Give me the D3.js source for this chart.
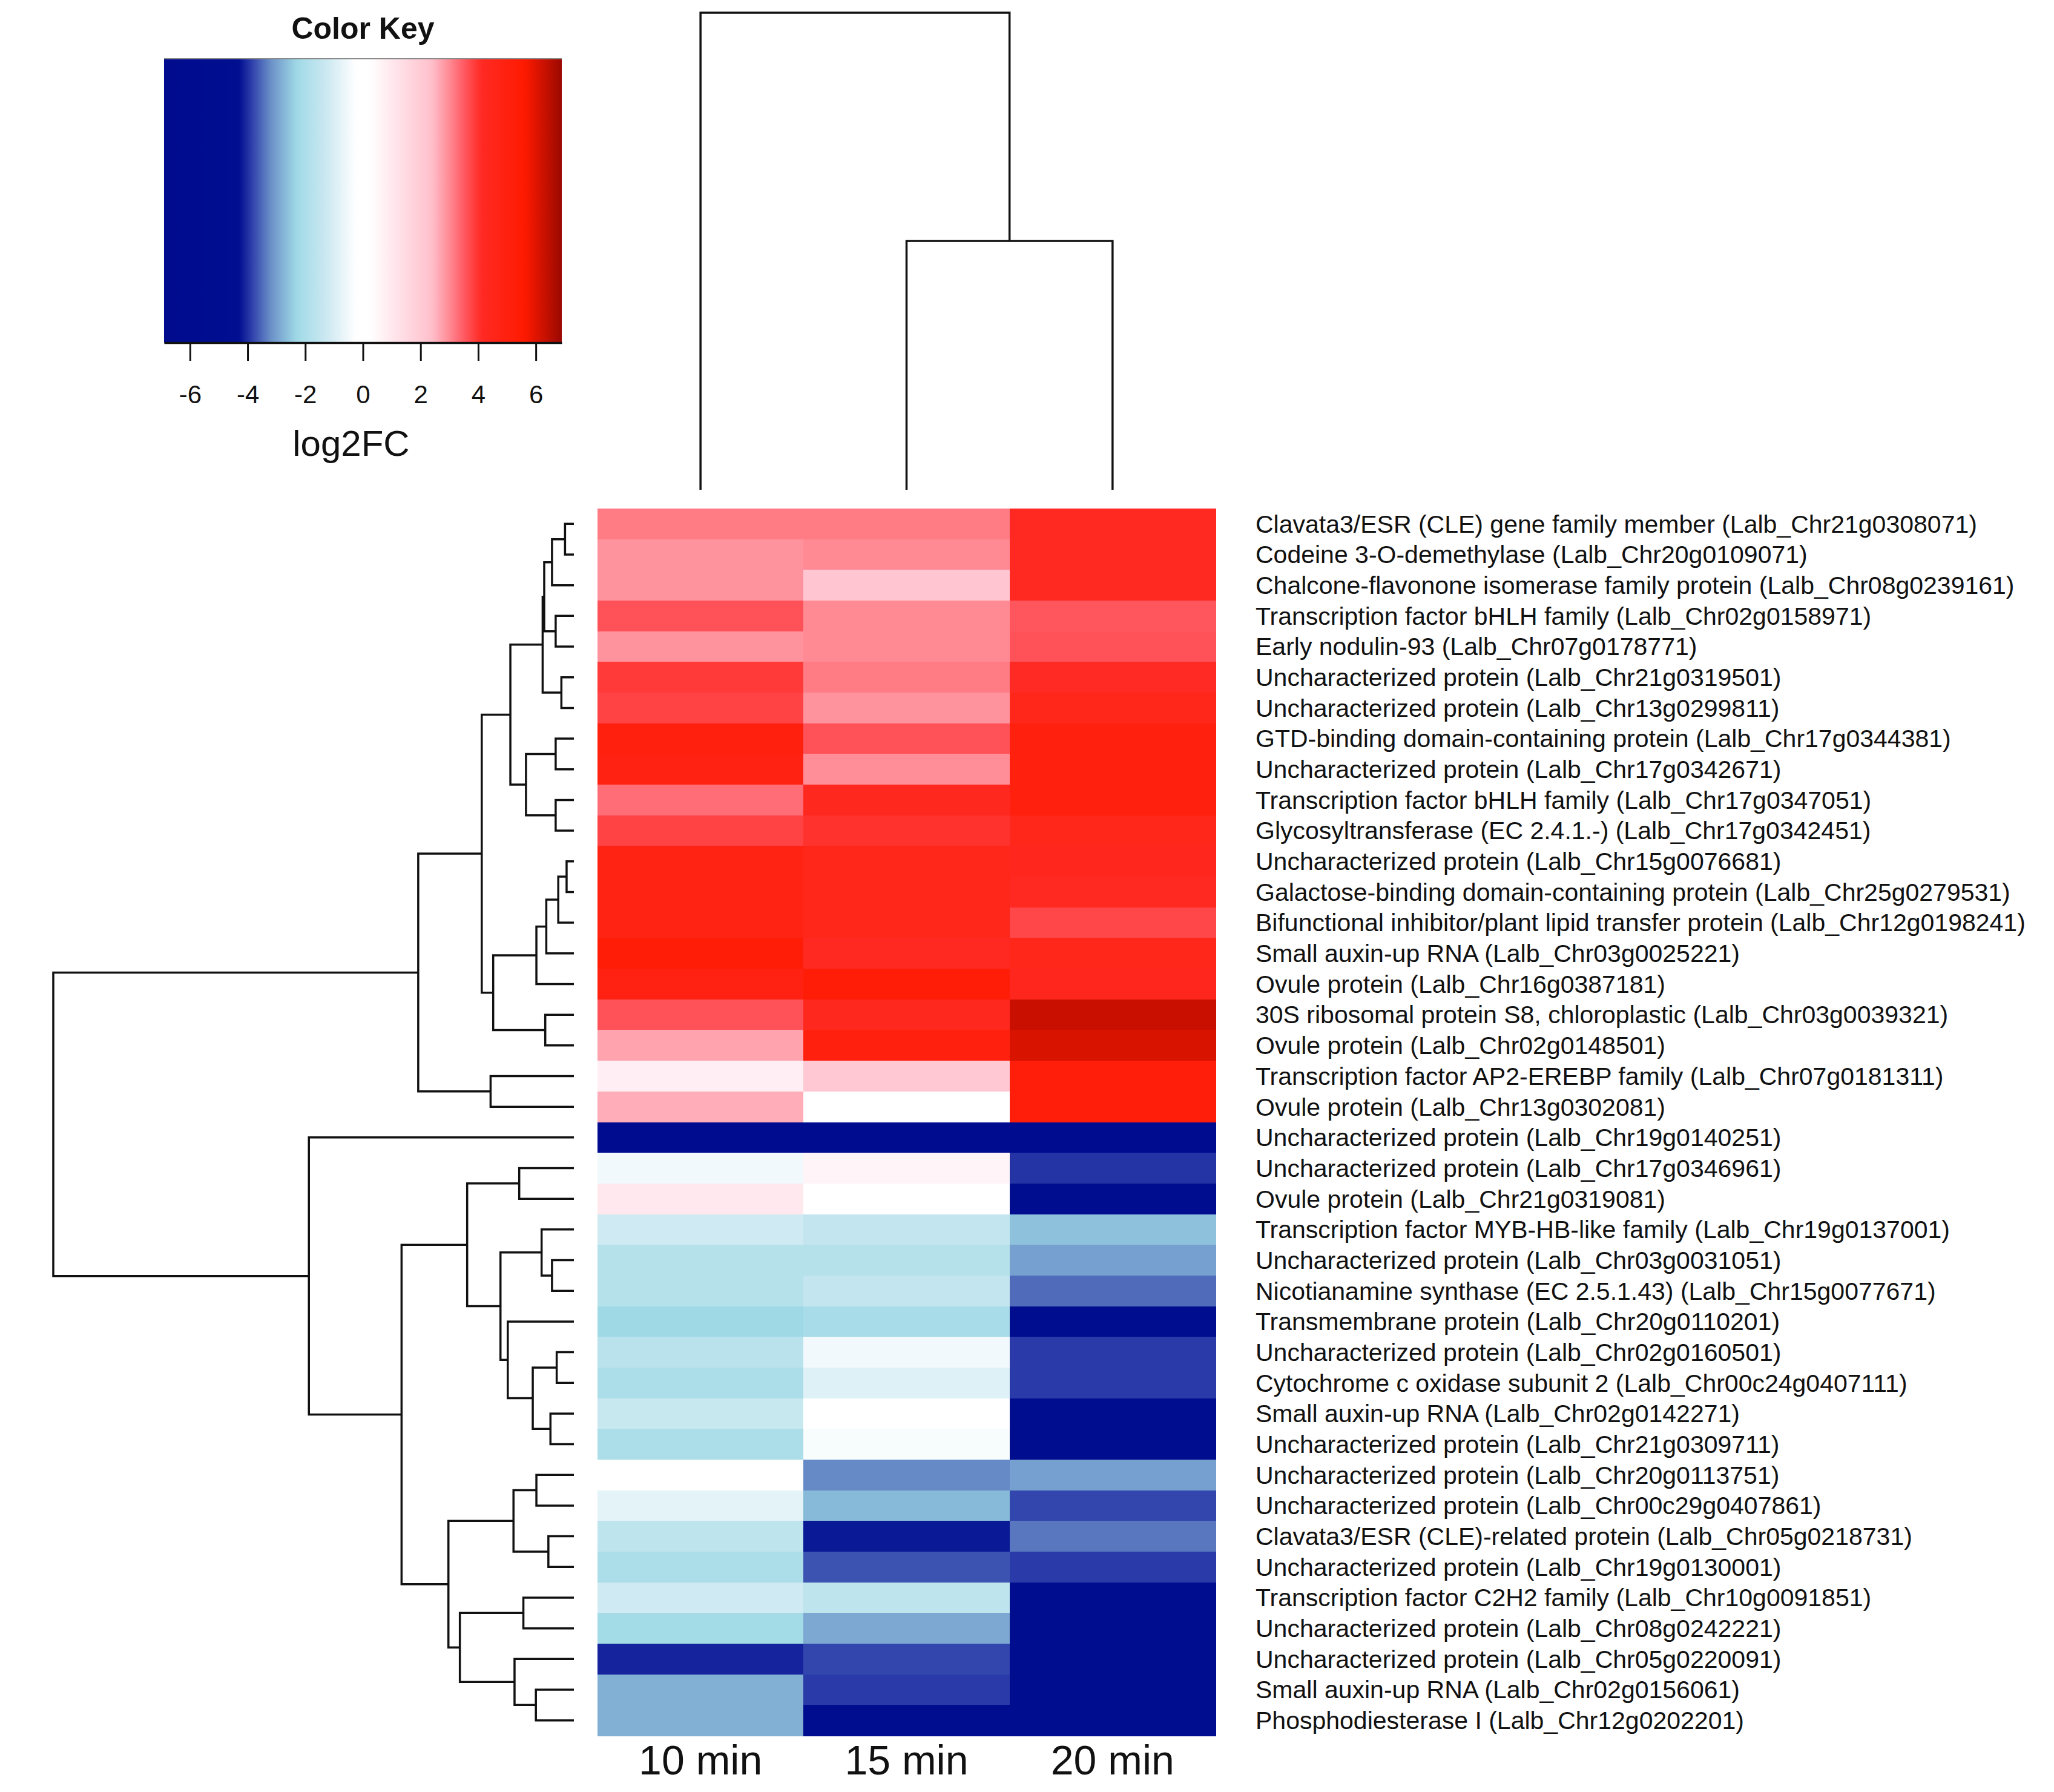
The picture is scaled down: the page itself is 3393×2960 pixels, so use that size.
<!DOCTYPE html>
<html>
<head>
<meta charset="utf-8">
<script src="https://cdn.jsdelivr.net/npm/d3@7"></script>
<style>
  body { margin: 0; background: #fff; }
  text { font-family: 'Liberation Sans', Arial, sans-serif; fill: #111; }
</style>
</head>
<body>
<div id="chart"></div>
<script>
// 1. SETUP
const width = 3393;
const height = 2960;

// --- DATA ---
const colLabels = ["10 min", "15 min", "20 min"];

const rowLabels = [
    "Clavata3/ESR (CLE) gene family member (Lalb_Chr21g0308071)",
    "Codeine 3-O-demethylase (Lalb_Chr20g0109071)",
    "Chalcone-flavonone isomerase family protein (Lalb_Chr08g0239161)",
    "Transcription factor bHLH family (Lalb_Chr02g0158971)",
    "Early nodulin-93 (Lalb_Chr07g0178771)",
    "Uncharacterized protein (Lalb_Chr21g0319501)",
    "Uncharacterized protein (Lalb_Chr13g0299811)",
    "GTD-binding domain-containing protein (Lalb_Chr17g0344381)",
    "Uncharacterized protein (Lalb_Chr17g0342671)",
    "Transcription factor bHLH family (Lalb_Chr17g0347051)",
    "Glycosyltransferase (EC 2.4.1.-) (Lalb_Chr17g0342451)",
    "Uncharacterized protein (Lalb_Chr15g0076681)",
    "Galactose-binding domain-containing protein (Lalb_Chr25g0279531)",
    "Bifunctional inhibitor/plant lipid transfer protein (Lalb_Chr12g0198241)",
    "Small auxin-up RNA (Lalb_Chr03g0025221)",
    "Ovule protein (Lalb_Chr16g0387181)",
    "30S ribosomal protein S8, chloroplastic (Lalb_Chr03g0039321)",
    "Ovule protein (Lalb_Chr02g0148501)",
    "Transcription factor AP2-EREBP family (Lalb_Chr07g0181311)",
    "Ovule protein (Lalb_Chr13g0302081)",
    "Uncharacterized protein (Lalb_Chr19g0140251)",
    "Uncharacterized protein (Lalb_Chr17g0346961)",
    "Ovule protein (Lalb_Chr21g0319081)",
    "Transcription factor MYB-HB-like family (Lalb_Chr19g0137001)",
    "Uncharacterized protein (Lalb_Chr03g0031051)",
    "Nicotianamine synthase (EC 2.5.1.43) (Lalb_Chr15g0077671)",
    "Transmembrane protein (Lalb_Chr20g0110201)",
    "Uncharacterized protein (Lalb_Chr02g0160501)",
    "Cytochrome c oxidase subunit 2 (Lalb_Chr00c24g0407111)",
    "Small auxin-up RNA (Lalb_Chr02g0142271)",
    "Uncharacterized protein (Lalb_Chr21g0309711)",
    "Uncharacterized protein (Lalb_Chr20g0113751)",
    "Uncharacterized protein (Lalb_Chr00c29g0407861)",
    "Clavata3/ESR (CLE)-related protein (Lalb_Chr05g0218731)",
    "Uncharacterized protein (Lalb_Chr19g0130001)",
    "Transcription factor C2H2 family (Lalb_Chr10g0091851)",
    "Uncharacterized protein (Lalb_Chr08g0242221)",
    "Uncharacterized protein (Lalb_Chr05g0220091)",
    "Small auxin-up RNA (Lalb_Chr02g0156061)",
    "Phosphodiesterase I (Lalb_Chr12g0202201)"
];

// log2FC per column, same order as rowLabels
const fc10 = [3.15, 2.9, 2.9, 3.6, 2.9, 3.9, 3.8, 5.0, 4.9, 3.3,
              3.8, 4.8, 4.8, 4.8, 5.3, 4.9, 3.6, 2.7, 0.8, 2.6,
              -6.0, -0.5, 1.0, -1.2, -1.8, -1.8, -2.3, -1.7, -2.0, -1.35,
              -2.0, 0.0, -0.8, -1.6, -2.0, -1.2, -2.2, -4.1, -2.8, -2.8];
const fc15 = [3.15, 3.0, 2.2, 3.0, 3.0, 3.15, 2.9, 3.6, 2.95, 4.3,
              4.0, 4.5, 4.5, 4.5, 4.2, 5.3, 4.3, 5.0, 2.1, 0.0,
              -6.0, 0.6, 0.05, -1.5, -1.8, -1.5, -2.1, -0.5, -0.9, 0.2,
              -0.4, -3.25, -2.7, -4.2, -3.7, -1.6, -2.9, -3.8, -3.9, -5.0];
const fc20 = [4.2, 4.2, 4.2, 3.55, 3.6, 4.1, 4.5, 5.0, 5.0, 5.0,
              4.5, 4.4, 4.2, 3.75, 4.5, 4.4, 6.3, 6.1, 5.2, 5.2,
              -6.0, -3.95, -5.5, -2.6, -3.0, -3.5, -5.5, -3.9, -3.9, -5.5,
              -5.5, -3.0, -3.8, -3.4, -3.9, -5.5, -5.5, -5.5, -5.5, -5.5];

// dendrograms: [height, left, right], leaves are row / column indexes
const rowTree = [10.0,
    [2.99,
        [1.77,
            [1.22,
                [0.60,
                    [0.57, [0.42, [0.17, 0, 1], 2], [0.35, 3, 4]],
                    [0.24, 5, 6]],
                [0.92, [0.35, 7, 8], [0.35, 9, 10]]],
            [1.55,
                [0.72, [0.53, [0.30, [0.14, 11, 12], 13], 14], 15],
                [0.55, 16, 17]]],
        [1.60, 18, 19]],
    [5.09,
        20,
        [3.31,
            [2.05,
                [1.05, 21, 22],
                [1.41,
                    [0.62, 23, [0.42, 24, 25]],
                    [1.27, 26, [0.79, [0.33, 27, 28], [0.45, 29, 30]]]]],
            [2.41,
                [1.16, [0.72, 31, 32], [0.49, 33, 34]],
                [2.19, [0.97, 35, 36], [1.14, 37, [0.73, 38, 39]]]]]]];

const colTree = [7.88, 0, [4.11, 1, 2]];

const keyTicks = [-6, -4, -2, 0, 2, 4, 6];
const keyStops = [-6.9, -4.3, -3.9, -3.2, -2.3, -1.2, -0.25, 0.25, 1.0, 2.4, 3.0, 3.5, 4.1, 5.6, 6.9];
const keyColors = ["#000b8e", "#000e90", "#2a3aa8", "#6a90c8", "#9fd9e6", "#cfeaf2", "#ffffff",
                   "#ffffff", "#ffe8ee", "#ffbfcb", "#ff8a94", "#ff5a62", "#ff2a24", "#ff1a00", "#9a0800"];

// --- SVG ---
const svg = d3.select("#chart")
    .append("svg")
    .attr("width", width)
    .attr("height", height)
    .attr("viewBox", [0, 0, width, height]);

svg.append("rect").attr("width", width).attr("height", height).attr("fill", "#fff");

const color = d3.scaleLinear().domain(keyStops).range(keyColors).clamp(true);

// --- SCALES ---
const x = d3.scaleBand().domain(d3.range(colLabels.length)).range([987, 2008]);
const y = d3.scaleBand().domain(d3.range(rowLabels.length)).range([840, 2867]);

const rowH = d3.scaleLinear().domain([0, rowTree[0]]).range([948, 88]);
const colH = d3.scaleLinear().domain([0, colTree[0]]).range([809, 21]);

// --- HEATMAP CELLS ---
const cells = [];
[fc10, fc15, fc20].forEach((vals, c) => {
    vals.forEach((v, r) => cells.push({ r, c, v }));
});

svg.append("g")
    .selectAll("rect")
    .data(cells)
    .join("rect")
    .attr("x", d => x(d.c))
    .attr("y", d => y(d.r))
    .attr("width", x.bandwidth() + 0.5)
    .attr("height", y.bandwidth() + 0.5)
    .attr("fill", d => color(d.v))
    .attr("shape-rendering", "crispEdges");

// --- ROW LABELS ---
svg.append("g")
    .selectAll("text")
    .data(rowLabels)
    .join("text")
    .attr("x", 2074)
    .attr("y", (d, i) => y(i) + y.bandwidth() / 2)
    .attr("dy", "0.35em")
    .attr("font-size", "41px")
    .text(d => d);

// --- COLUMN LABELS ---
svg.append("g")
    .selectAll("text")
    .data(colLabels)
    .join("text")
    .attr("x", (d, i) => x(i) + x.bandwidth() / 2)
    .attr("y", 2931)
    .attr("text-anchor", "middle")
    .attr("font-size", "68px")
    .text(d => d);

// --- DENDROGRAMS ---
function treePaths(tree, leafPos, toXY) {
    const root = d3.hierarchy(tree, d => Array.isArray(d) ? d.slice(1) : null);
    root.eachAfter(n => {
        n.pos = n.children ? d3.mean(n.children, c => c.pos) : leafPos(n.data);
        n.h = n.children ? n.data[0] : 0;
    });
    const paths = [];
    root.each(n => {
        if (!n.children) return;
        const [a, b] = n.children;
        const p = d3.path();
        p.moveTo(...toXY(a.pos, a.h));
        p.lineTo(...toXY(a.pos, n.h));
        p.lineTo(...toXY(b.pos, n.h));
        p.lineTo(...toXY(b.pos, b.h));
        paths.push(p.toString());
    });
    return paths;
}

const rowPaths = treePaths(rowTree,
    i => y(i) + y.bandwidth() / 2,
    (pos, h) => [rowH(h), pos]);

const colPaths = treePaths(colTree,
    i => x(i) + x.bandwidth() / 2,
    (pos, h) => [pos, colH(h)]);

svg.append("g")
    .selectAll("path")
    .data(rowPaths.concat(colPaths))
    .join("path")
    .attr("d", d => d)
    .attr("fill", "none")
    .attr("stroke", "#111")
    .attr("stroke-width", 3.5);

// --- COLOR KEY ---
const keyX = d3.scaleLinear().domain([-6.9, 6.9]).range([271, 928]);
const keyTop = 97, keyBottom = 566;

const grad = svg.append("defs").append("linearGradient")
    .attr("id", "keygrad")
    .attr("x1", "0%").attr("x2", "100%");
grad.selectAll("stop")
    .data(d3.range(0, 101))
    .join("stop")
    .attr("offset", d => d + "%")
    .attr("stop-color", d => color(-6.9 + 13.8 * d / 100));

svg.append("rect")
    .attr("x", keyX(-6.9))
    .attr("y", keyTop)
    .attr("width", keyX(6.9) - keyX(-6.9))
    .attr("height", keyBottom - keyTop)
    .attr("fill", "url(#keygrad)");

svg.append("line")
    .attr("x1", keyX(-6.9)).attr("x2", keyX(6.9))
    .attr("y1", keyTop).attr("y2", keyTop)
    .attr("stroke", "#8a8a8a")
    .attr("stroke-width", 2);

const keyAxis = svg.append("g")
    .attr("transform", `translate(0, ${keyBottom})`)
    .call(d3.axisBottom(keyX).tickValues(keyTicks).tickSize(30).tickSizeOuter(0)
        .tickPadding(40).tickFormat(d => String(d)));
keyAxis.select(".domain").attr("stroke", "#111").attr("stroke-width", 3.5);
keyAxis.selectAll(".tick line").attr("stroke", "#111").attr("stroke-width", 3);
keyAxis.selectAll(".tick text")
    .attr("font-size", "42px")
    .attr("font-family", "'Liberation Sans', Arial, sans-serif")
    .attr("fill", "#111");

svg.append("text")
    .attr("x", (keyX(-6.9) + keyX(6.9)) / 2)
    .attr("y", 64)
    .attr("text-anchor", "middle")
    .attr("font-size", "50px")
    .attr("font-weight", "bold")
    .text("Color Key");

svg.append("text")
    .attr("x", 580)
    .attr("y", 753)
    .attr("text-anchor", "middle")
    .attr("font-size", "60px")
    .text("log2FC");
</script>
</body>
</html>
